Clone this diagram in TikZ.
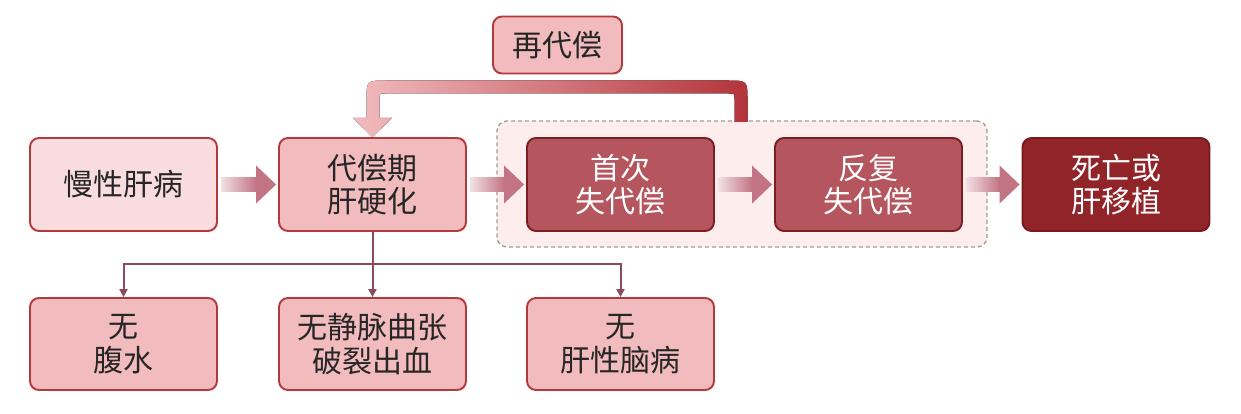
\documentclass[tikz,border=0pt]{standalone}
\usepackage{fontspec}
\newfontfamily\cjk{Noto Sans CJK SC}
\usetikzlibrary{arrows.meta,calc}
\definecolor{cLight}{HTML}{F8DCDF}
\definecolor{cMid}{HTML}{F2BBBD}
\definecolor{cBorder}{HTML}{B23A3C}
\definecolor{cDeep}{HTML}{B5555E}
\definecolor{cDeepB}{HTML}{7B1E24}
\definecolor{cDark}{HTML}{912428}
\definecolor{cDarkB}{HTML}{7A1A1E}
\definecolor{grpFill}{HTML}{FDEDED}
\definecolor{grpDraw}{HTML}{9E9E9E}
\definecolor{lineC}{HTML}{8B4B5B}
\definecolor{txt}{HTML}{262626}
\definecolor{arrowC}{HTML}{C27384}
\definecolor{fbLight}{HTML}{F2BCBE}
\definecolor{fbDark}{HTML}{B3343A}
\newcommand\fatarrow[3]{%
  \path let \p1=($(#1.east)+(3,0)$), \p2=($(#2.west)+(-2,0)$) in
    [left color=#3, right color=arrowC, draw=none]
    (\x1,\y1-6.5pt) rectangle (\x2-19.5pt,\y1+6.5pt);
  \path let \p1=($(#1.east)+(3,0)$), \p2=($(#2.west)+(-2,0)$) in
    [fill=arrowC]
    (\x2-20pt,\y1-19pt) -- (\x2,\y1) -- (\x2-20pt,\y1+19pt) -- cycle;
}
\begin{document}
\begin{tikzpicture}[x=1pt,y=-1pt,
  box/.style={rounded corners=9pt, line width=1.9pt, minimum width=187pt,
    minimum height=93pt, align=center, inner sep=0pt,
    font=\cjk\fontsize{30}{33.5}\selectfont, text=txt},
  lightbox/.style={box, fill=cLight, draw=cBorder},
  midbox/.style={box, fill=cMid, draw=cBorder},
  deepbox/.style={box, fill=cDeep, draw=cDeepB, text=white},
  darkbox/.style={box, fill=cDark, draw=cDarkB, text=white},
  conn/.style={draw=lineC, line width=2pt, -{Triangle[length=8pt,width=8pt]}}
  ]
\useasboundingbox (0,0) rectangle (1241,414);
\fill[white] (0,0) rectangle (1241,414);

\node[draw=grpDraw, fill=grpFill, dash pattern=on 4pt off 3pt, rounded corners=10pt,
  line width=1.4pt, minimum width=490pt, minimum height=126pt, inner sep=0pt]
  (grp) at (742,184) {};

\node[lightbox] (n1) at (123.5,184.5) {慢性肝病};
\node[midbox] (n2) at (372.5,184.5) {代偿期\\肝硬化};
\node[deepbox] (n3) at (620.5,184.5) {首次\\失代偿};
\node[deepbox] (n4) at (868.5,184.5) {反复\\失代偿};
\node[darkbox] (n5) at (1116,184.5) {死亡或\\肝移植};
\node[midbox, minimum width=129pt, minimum height=57pt] (r) at (557.5,45) {再代偿};
\node[midbox, minimum height=92pt] (b1) at (123.5,344) {无\\腹水};
\node[midbox, minimum height=92pt] (b2) at (372.5,344) {无静脉曲张\\破裂出血};
\node[midbox, minimum height=92pt] (b3) at (620.5,344) {无\\肝性脑病};

\fatarrow{n1}{n2}{arrowC!22}
\fatarrow{n2}{n3}{arrowC!22}
\fatarrow{n3}{n4}{arrowC!22}
\fatarrow{n4}{n5}{arrowC!22}

% feedback arrow (re-compensation)
\fill[left color=fbLight, right color=fbDark]
  (747.5,122) -- (747.5,100.5) .. controls (747.5,80.5) .. (727.5,80.5)
  -- (386.5,80.5) .. controls (366.5,80.5) .. (366.5,100.5)
  -- (366.5,118) -- (353,118) -- (n2.north) -- (392,118) -- (379.5,118)
  -- (379.5,99.5) .. controls (379.5,93.5) .. (385.5,93.5)
  -- (728.5,93.5) .. controls (734.5,93.5) .. (734.5,99.5)
  -- (734.5,122) -- cycle;

% tree connectors
\coordinate (j) at (372.5,264);
\draw[draw=lineC, line width=2pt] (n2.south) -- (j);
\draw[conn] (j) -- (b2.north);
\draw[conn] (j) -| (b1.north);
\draw[conn] (j) -| (b3.north);
\end{tikzpicture}
\end{document}
